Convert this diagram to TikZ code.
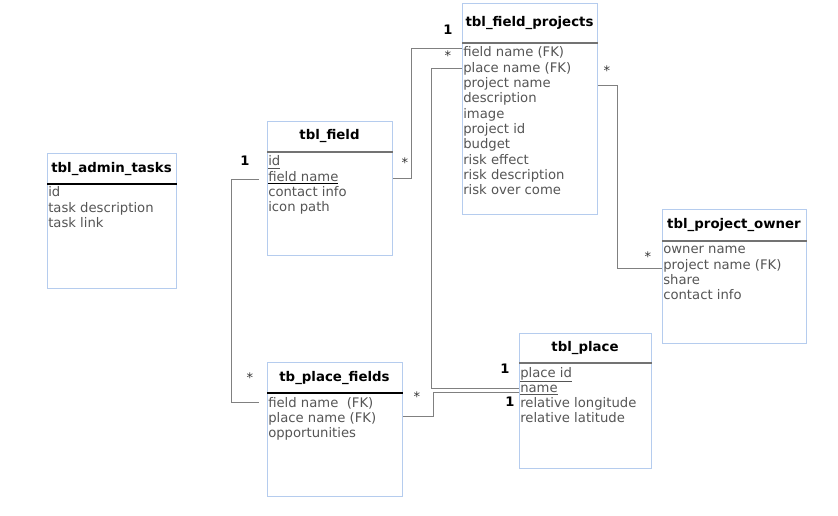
\documentclass[tikz,border=0pt]{standalone}
\usepackage{fontspec}
\setmainfont{DejaVu Sans}
\definecolor{bord}{HTML}{B5CCEE}
\definecolor{fgray}{HTML}{555555}
\definecolor{lgray}{HTML}{808080}
\tikzset{
 tbox/.style={draw=bord, line width=0.9pt, inner sep=0, anchor=north west},
 ttl/.style={font=\fontsize{10}{12}\selectfont\bfseries, inner sep=0, text=black},
 fld/.style={font=\fontsize{9.9}{12}\selectfont, text=fgray, inner sep=0, anchor=base west},
 conn/.style={draw=lgray, line width=0.65pt},
 mult/.style={font=\fontsize{9.8}{12}\selectfont, inner sep=0, text=black!80},
 one/.style={font=\fontsize{9.8}{12}\selectfont\bfseries, inner sep=0},
 sepk/.style={draw=black, line width=0.9pt},
 sepg/.style={draw=black!55, line width=1.1pt},
}
\begin{document}
\begin{tikzpicture}[x=0.75pt,y=-0.75pt]
\useasboundingbox[fill=white] (0,0) rectangle (838,516);

% tbl_admin_tasks
\node[tbox, minimum width={129*0.75pt}, minimum height={135*0.75pt}] (adm) at (47,153) {};
\draw[sepk] (adm.west |- 0,184) -- (adm.east |- 0,184);
\node[ttl] (admt) at (111.5,169) {tbl\_admin\_tasks};
\node[fld] (adm1) at (48,197) {id};
\node[fld] (adm2) at (48,212.3) {task description};
\node[fld] (adm3) at (48,227.6) {task link};

% tbl_field
\node[tbox, minimum width={125*0.75pt}, minimum height={134*0.75pt}] (fld) at (267,121) {};
\draw[sepg] (fld.west |- 0,152) -- (fld.east |- 0,152);
\node[ttl] (fldt) at (329.5,136.5) {tbl\_field};
\node[fld] (fld1) at (268,166) {\underline{id}};
\node[fld] (fld2) at (268,181.3) {{\color{black}\underline{\textcolor{fgray}{field name}}}};
\node[fld] (fld3) at (268,196.6) {contact info};
\node[fld] (fld4) at (268,211.9) {icon path};

% tbl_field_projects
\node[tbox, minimum width={135*0.75pt}, minimum height={211*0.75pt}] (fp) at (462,3) {};
\draw[sepg] (fp.west |- 0,43) -- (fp.east |- 0,43);
\node[ttl] (fpt) at (529.5,23.5) {tbl\_field\_projects};
\node[fld] (fp1) at (463,57) {field name (FK)};
\node[fld] (fp2) at (463,72.3) {place name (FK)};
\node[fld] (fp3) at (463,87.6) {project name};
\node[fld] (fp4) at (463,102.9) {description};
\node[fld] (fp5) at (463,118.2) {image};
\node[fld] (fp6) at (463,133.5) {project id};
\node[fld] (fp7) at (463,148.8) {budget};
\node[fld] (fp8) at (463,164.1) {risk effect};
\node[fld] (fp9) at (463,179.4) {risk description};
\node[fld] (fp10) at (463,194.7) {risk over come};

% tbl_project_owner
\node[tbox, minimum width={144*0.75pt}, minimum height={134*0.75pt}] (own) at (662,209) {};
\draw[sepg] (own.west |- 0,241) -- (own.east |- 0,241);
\node[ttl] (ownt) at (734,225) {tbl\_project\_owner};
\node[fld] (own1) at (663,254) {owner name};
\node[fld] (own2) at (663,269.3) {project name (FK)};
\node[fld] (own3) at (663,284.6) {share};
\node[fld] (own4) at (663,299.9) {contact info};

% tbl_place
\node[tbox, minimum width={132*0.75pt}, minimum height={135*0.75pt}] (plc) at (519,333) {};
\draw[sepg] (plc.west |- 0,363) -- (plc.east |- 0,363);
\node[ttl] (plct) at (585,348) {tbl\_place};
\node[fld] (plc1) at (520,377) {\underline{place id}};
\node[fld] (plc2) at (520,392.3) {\underline{name}};
\node[fld] (plc3) at (520,407.6) {relative longitude};
\node[fld] (plc4) at (520,422.9) {relative latitude};

% tb_place_fields
\node[tbox, minimum width={135*0.75pt}, minimum height={134*0.75pt}] (pf) at (267,362) {};
\draw[sepk] (pf.west |- 0,393) -- (pf.east |- 0,393);
\node[ttl] (pft) at (334.5,378) {tb\_place\_fields};
\node[fld] (pf1) at (268,407) {field name~~(FK)};
\node[fld] (pf2) at (268,422.3) {place name (FK)};
\node[fld] (pf3) at (268,437.6) {opportunities};

% connectors
\coordinate (b1) at (411,178);
\draw[conn] (fld.east |- b1) -- (b1) |- (fp.west |- 0,48);
\node[mult] (m1) at (405,163) {*};
\node[one] (m2) at (448,30) {1};
\node[mult] (m3) at (448,56) {*};

\coordinate (b2) at (431,68);
\draw[conn] (fp.west |- b2) -- (b2) |- (plc.west |- 0,388);
\node[one] (m4) at (505,369) {1};

\coordinate (b3) at (433,416);
\draw[conn] (pf.east |- b3) -- (b3) |- (plc.west |- 0,392);
\node[mult] (m5) at (417,397) {*};
\node[one] (m6) at (510,402) {1};

\coordinate (b4) at (617,85);
\draw[conn] (fp.east |- b4) -- (b4) |- (own.west |- 0,268);
\node[mult] (m7) at (607,71) {*};
\node[mult] (m8) at (648,257) {*};

\coordinate (g1) at (259,179);
\coordinate (b5) at (231,179);
\coordinate (g2) at (259,402);
\draw[conn] (g1) -- (b5) |- (g2);
\node[one] (m9) at (245,161) {1};
\node[mult] (m10) at (250,378) {*};
\end{tikzpicture}
\end{document}
